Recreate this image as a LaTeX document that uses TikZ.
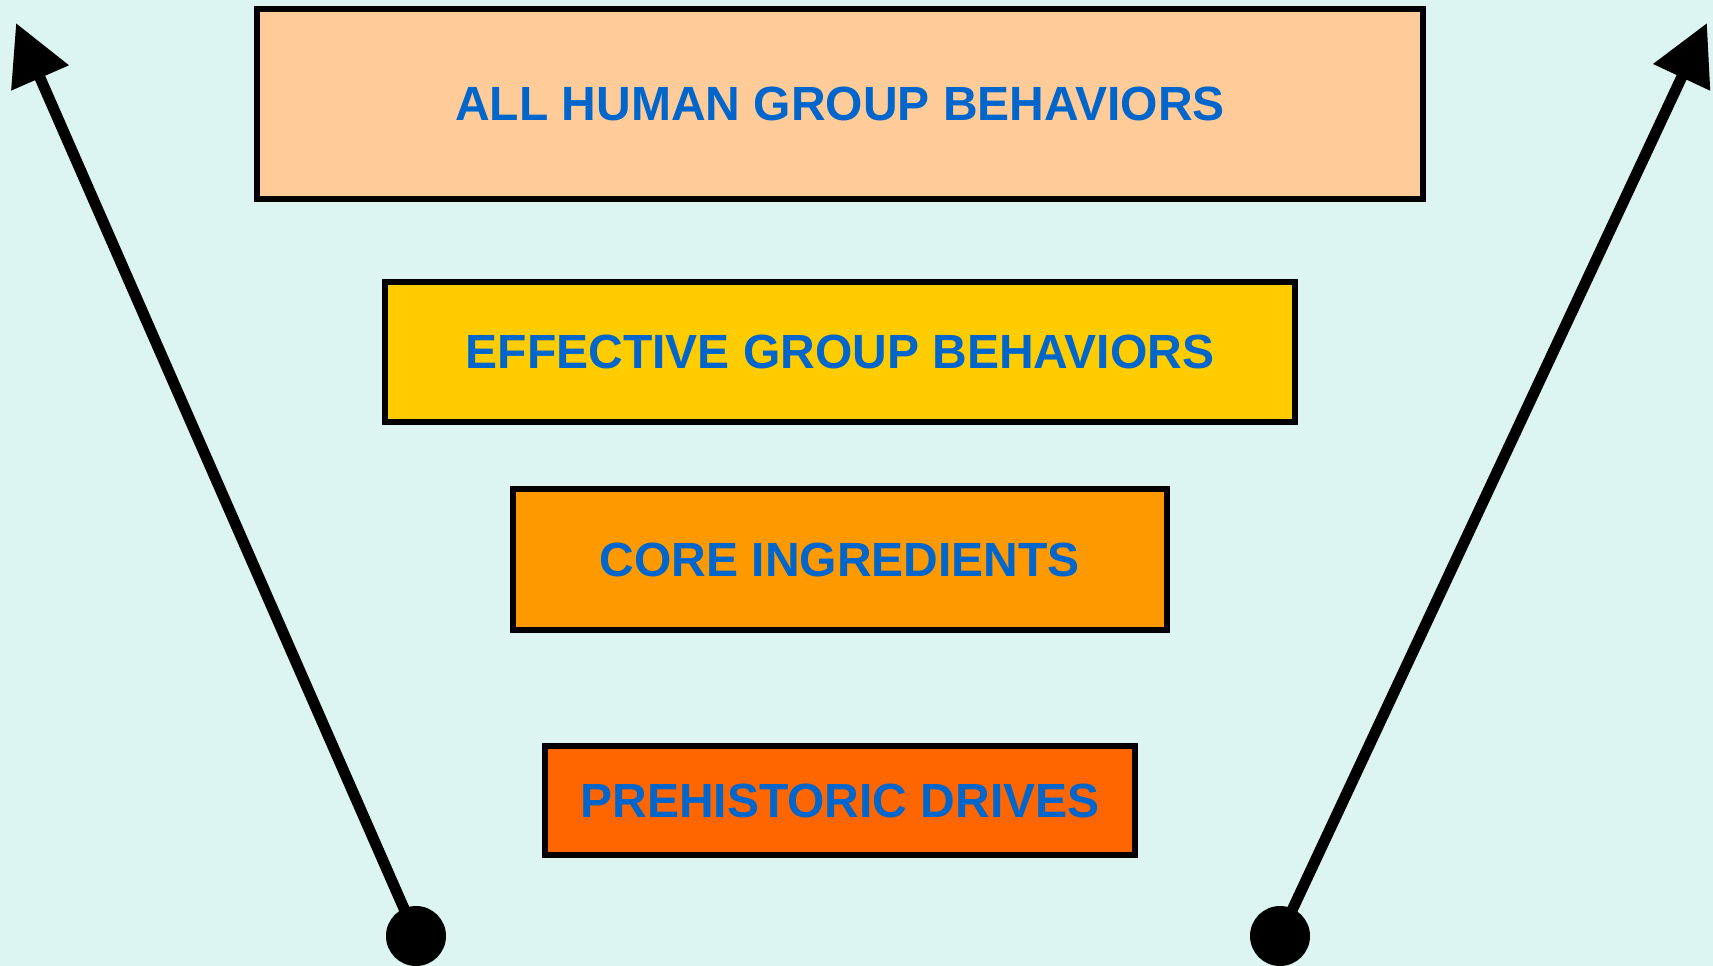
\documentclass[tikz,border=0pt]{standalone}
\usepackage{fontspec}
\setmainfont{Liberation Sans}
\usepackage{tikz}
\usetikzlibrary{positioning,arrows.meta}
\definecolor{bgcyan}{RGB}{221,245,241}
\definecolor{peach}{RGB}{255,204,153}
\definecolor{gold}{RGB}{255,204,0}
\definecolor{amber}{RGB}{255,153,0}
\definecolor{blaze}{RGB}{255,102,0}
\definecolor{labelblue}{RGB}{0,102,204}
\tikzset{
  level/.style={
      draw,
      line width=6pt,
      text=labelblue,
      font=\fontsize{48}{48}\selectfont\bfseries,
      inner sep=0pt,
  },
  pointer/.style={
      line width=11pt,
      ->,
  },
  root/.style={
      circle,
      fill=black,
      minimum size=60pt,
      inner sep=0pt,
  },
  >={Triangle[length=60pt,width=60pt]}
}

\begin{document}
\begin{tikzpicture}[x=1pt,y=-1pt]
  \fill[bgcyan] (0,0) rectangle (1713,966);
  \useasboundingbox (0,0) rectangle (1713,966);
  \node[level,fill=peach,minimum width=1166pt,minimum height=190pt](all) at (840,104){ALL HUMAN GROUP BEHAVIORS};
  \node[level,fill=gold,minimum width=910pt,minimum height=140pt](eff) at (840,352){EFFECTIVE GROUP BEHAVIORS};
  \node[level,fill=amber,minimum width=654pt,minimum height=141pt](core) at (840,559.5){CORE INGREDIENTS};
  \node[level,fill=blaze,minimum width=590pt,minimum height=109pt](pre) at (840,800.5){PREHISTORIC DRIVES};
  % the two widening arrows
  \node[root](ldot) at (416,936){};
  \node[root](rdot) at (1280,936){};
  \coordinate (ltip) at (16,23);
  \coordinate (rtip) at (1707,23);
  \draw[pointer] (ldot.center) -- (ltip);
  \draw[pointer] (rdot.center) -- (rtip);
\end{tikzpicture}
\end{document}
